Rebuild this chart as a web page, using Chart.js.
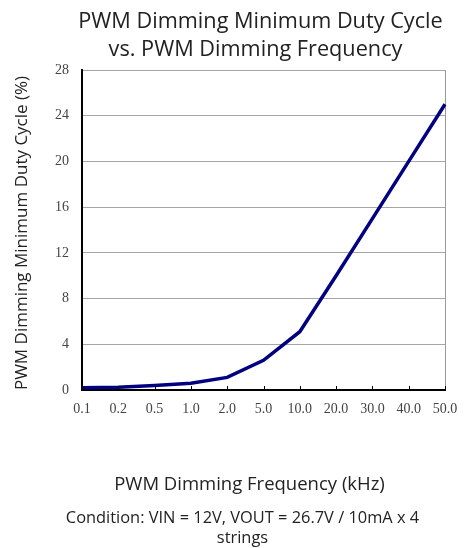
<!DOCTYPE html>
<html>
<head>
<meta charset="utf-8">
<script src="https://cdn.jsdelivr.net/npm/chart.js@4.4.1/dist/chart.umd.min.js"></script>
<style>
html,body{margin:0;padding:0;background:#fff;}
#wrap{width:471px;height:548px;}
</style>
</head>
<body>
<div id="wrap"><canvas id="c" width="471" height="548"></canvas></div>
<script>
const frequencies = ['0.1','0.2','0.5','1.0','2.0','5.0','10.0','20.0','30.0','40.0','50.0'];
const minDutyCycle = [0.2, 0.25, 0.4, 0.6, 1.1, 2.6, 5.1, 10.0, 15.0, 20.0, 25.0];
const yTicks = [0, 4, 8, 12, 16, 20, 24, 28];
const titleLines = ['PWM Dimming Minimum Duty Cycle', 'vs. PWM Dimming Frequency'];
const xTitle = 'PWM Dimming Frequency (kHz)';
const yTitle = 'PWM Dimming Minimum Duty Cycle (%)';
const conditionLines = ['Condition: VIN = 12V, VOUT = 26.7V / 10mA x 4', 'strings'];

const SANS = '"Open Sans", "Noto Sans", sans-serif';
const SERIF = '"Liberation Serif", "DejaVu Serif", serif';

const textPlugin = {
  id: 'textPlugin',
  afterDraw(chart) {
    const ctx = chart.ctx;
    const a = chart.chartArea;
    const cx = (a.left + a.right) / 2;
    ctx.save();
    ctx.fillStyle = '#222';
    ctx.textAlign = 'center';
    ctx.textBaseline = 'middle';
    ctx.font = '21.7px ' + SANS;
    ctx.fillText(titleLines[0], cx - 3, 22);
    ctx.fillText(titleLines[1], cx - 8, 50);
    ctx.font = '18.5px ' + SANS;
    ctx.fillText(xTitle, cx - 14, 485);
    ctx.font = '16.4px ' + SANS;
    ctx.fillText(conditionLines[0], cx - 21, 518);
    ctx.fillText(conditionLines[1], cx - 21, 538);
    // y title
    ctx.save();
    ctx.translate(22, (a.top + a.bottom) / 2 + 3);
    ctx.rotate(-Math.PI / 2);
    ctx.font = '17px ' + SANS;
    ctx.fillText(yTitle, 0, 0);
    ctx.restore();
    // inward x tick marks
    const xs = chart.scales.x;
    ctx.strokeStyle = '#000';
    ctx.lineWidth = 1;
    xs.ticks.forEach((t, i) => {
      const px = Math.round(xs.getPixelForTick(i)) + 0.5;
      ctx.beginPath();
      ctx.moveTo(px, a.bottom);
      ctx.lineTo(px, a.bottom - 4);
      ctx.stroke();
    });
    ctx.restore();
  }
};

new Chart(document.getElementById('c'), {
  type: 'line',
  data: {
    labels: frequencies,
    datasets: [{
      data: minDutyCycle,
      borderColor: '#000080',
      borderWidth: 3.5,
      pointRadius: 0,
      tension: 0,
      fill: false
    }]
  },
  options: {
    responsive: false,
    animation: false,
    layout: { padding: { left: 0, right: 26, top: 70, bottom: 0 } },
    plugins: { legend: { display: false }, title: { display: false }, tooltip: { enabled: false } },
    scales: {
      x: {
        offset: false,
        afterFit(scale) { scale.height = 158; },
        grid: {
          drawTicks: false,
          color: (c) => (c.index === frequencies.length - 1 ? '#999' : 'rgba(0,0,0,0)'),
          lineWidth: 1
        },
        border: { color: '#000', width: 2 },
        ticks: {
          padding: 11,
          color: '#444',
          font: { family: SERIF, size: 14 },
          maxRotation: 0,
          autoSkip: false
        }
      },
      y: {
        min: 0,
        max: 28,
        afterFit(scale) { scale.width = 82; },
        afterBuildTicks(scale) { scale.ticks = yTicks.map(v => ({ value: v })); },
        grid: { drawTicks: false, color: '#a6a6a6', lineWidth: 1 },
        border: { color: '#000', width: 2 },
        ticks: {
          padding: 13,
          color: '#444',
          font: { family: SERIF, size: 14 }
        }
      }
    }
  },
  plugins: [textPlugin]
});
</script>
</body>
</html>
